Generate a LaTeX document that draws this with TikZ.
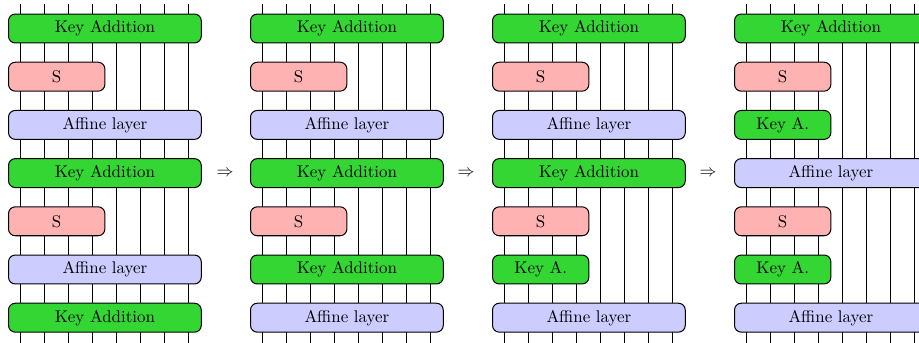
\documentclass[tikz,border=0pt]{standalone}
\definecolor{kagreen}{RGB}{51,214,51}
\definecolor{spink}{RGB}{255,178,178}
\definecolor{afblue}{RGB}{204,204,255}
\def\txtkabox{Key Addition}
\def\txtsbox{S}
\def\txtafbox{Affine layer}
\def\txtkhbox{Key A.}
\begin{document}
\begin{tikzpicture}[x=0.02075cm,y=-0.02075cm,
  blk/.style={draw, semithick, rounded corners=4pt, minimum height=0.6cm, inner sep=0pt, anchor=west},
  fullw/.style={blk, minimum width=4cm},
  halfw/.style={blk, minimum width=2cm},
  kabox/.style={fullw, fill=kagreen},
  afbox/.style={fullw, fill=afblue},
  sbox/.style={halfw, fill=spink},
  khbox/.style={halfw, fill=kagreen},
  wire/.style={draw, line width=0.45pt}]
\useasboundingbox (0,0) rectangle (919,343);
\clip (0,0) rectangle (919,343);
\foreach \col/\x in {1/8,2/250,3/492,4/734}{
  \foreach \k in {0,...,7}{
    \coordinate (w\col\k t) at (\x+12.05+24.1*\k, 4);
    \coordinate (w\col\k b) at (\x+12.05+24.1*\k, 345);
    \draw[wire] (w\col\k t) -- (w\col\k b);
  }
}
\foreach \col/\x/\lst in {
  1/8/{kabox,sbox,afbox,kabox,sbox,afbox,kabox},
  2/250/{kabox,sbox,afbox,kabox,sbox,kabox,afbox},
  3/492/{kabox,sbox,afbox,kabox,sbox,khbox,afbox},
  4/734/{kabox,sbox,khbox,afbox,sbox,khbox,afbox}}{
  \foreach \t [count=\r] in \lst {
    \node[\t] (c\col r\r) at (\x, 28.5+48.2*\r-48.2) {\csname txt\t\endcsname};
  }
}
\node (arr1) at (225,173) {$\Rightarrow$};
\node (arr2) at (466,173) {$\Rightarrow$};
\node (arr3) at (708,173) {$\Rightarrow$};
\end{tikzpicture}
\end{document}
